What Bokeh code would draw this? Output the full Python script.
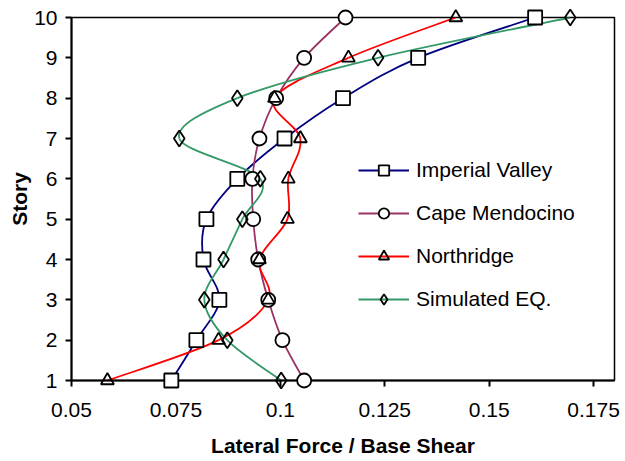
from bokeh.plotting import figure
from bokeh.models import FixedTicker, Legend, LegendItem, Range1d
from bokeh.embed import file_html
from bokeh.resources import INLINE

stories = [1, 2, 3, 4, 5, 6, 7, 8, 9, 10]
imperial_valley = [0.0739, 0.0799, 0.0854, 0.0816, 0.0823, 0.0897, 0.1010, 0.1150, 0.1330, 0.1610]
cape_mendocino = [0.1057, 0.1005, 0.0971, 0.0947, 0.0935, 0.0933, 0.0950, 0.0990, 0.1057, 0.1156]
northridge = [0.0586, 0.0852, 0.0971, 0.0950, 0.1017, 0.1019, 0.1048, 0.0986, 0.1163, 0.1420]
simulated_eq = [0.1002, 0.0873, 0.0818, 0.0864, 0.0909, 0.0952, 0.0758, 0.0897, 0.1234, 0.1694]

x_ticks = [0.05, 0.075, 0.1, 0.125, 0.15, 0.175]
x_tick_labels = ["0.05", "0.075", "0.1", "0.125", "0.15", "0.175"]
y_ticks = [1, 2, 3, 4, 5, 6, 7, 8, 9, 10]

# name, values, line colour, marker, size, filled
series = [
    ("Imperial Valley", imperial_valley, "#000080", "square", 14, True),
    ("Cape Mendocino", cape_mendocino, "#993366", "circle", 14, True),
    ("Northridge", northridge, "#FF0000", "triangle", 13, False),
    ("Simulated EQ.", simulated_eq, "#339966", "diamond", 16, False),
]

FONT = "Liberation Sans"
FS = "21px"

p = figure(width=625, height=461, output_backend="svg", toolbar_location=None,
           x_range=Range1d(0.05, 0.18), y_range=Range1d(1, 10),
           min_border_left=71, min_border_right=11, min_border_top=17, min_border_bottom=81)
p.xgrid.visible = False
p.ygrid.visible = False
p.outline_line_color = "black"
p.outline_line_width = 1.5
p.background_fill_color = "white"
p.border_fill_color = "white"


def bezier_controls(xs, ys):
    n = len(xs)
    d = dict(x0=[], y0=[], x1=[], y1=[], cx0=[], cy0=[], cx1=[], cy1=[])
    for i in range(n - 1):
        a = i - 1 if i > 0 else i
        b = i + 2 if i + 2 < n else i + 1
        d["x0"].append(xs[i]); d["y0"].append(ys[i])
        d["x1"].append(xs[i + 1]); d["y1"].append(ys[i + 1])
        d["cx0"].append(xs[i] + (xs[i + 1] - xs[a]) / 6.0)
        d["cy0"].append(ys[i] + (ys[i + 1] - ys[a]) / 6.0)
        d["cx1"].append(xs[i + 1] - (xs[b] - xs[i]) / 6.0)
        d["cy1"].append(ys[i + 1] - (ys[b] - ys[i]) / 6.0)
    return d


items = []
for name, vals, color, marker, size, filled in series:
    c = bezier_controls(vals, stories)
    br = p.bezier(x0=c["x0"], y0=c["y0"], x1=c["x1"], y1=c["y1"],
                  cx0=c["cx0"], cy0=c["cy0"], cx1=c["cx1"], cy1=c["cy1"],
                  line_color=color, line_width=1.8)
    sr = p.scatter(vals, stories, marker=marker, size=size, line_color="black",
                   line_width=1.8, fill_color="white",
                   fill_alpha=1.0 if filled else 0.0, level="overlay")
    items.append(LegendItem(label=name, renderers=[br, sr]))

legend = Legend(items=items, location=(287, 68))
legend.border_line_color = None
legend.background_fill_alpha = 0
legend.padding = 0
legend.margin = 0
legend.glyph_width = 51
legend.glyph_height = 26
legend.label_height = 26
legend.spacing = 17
legend.label_standoff = 7
legend.label_text_font = FONT
legend.label_text_font_size = FS
legend.label_text_color = "black"
p.add_layout(legend)

for ax in (p.xaxis[0], p.yaxis[0]):
    ax.axis_line_color = "black"
    ax.axis_line_width = 2
    ax.major_tick_line_color = "black"
    ax.major_tick_line_width = 2
    ax.major_tick_out = 6
    ax.major_tick_in = 0
    ax.minor_tick_line_color = None
    ax.major_label_text_font = FONT
    ax.major_label_text_font_size = FS
    ax.major_label_text_color = "black"
    ax.axis_label_text_font = FONT
    ax.axis_label_text_font_size = FS
    ax.axis_label_text_font_style = "bold"
    ax.axis_label_text_color = "black"

p.xaxis[0].ticker = FixedTicker(ticks=x_ticks)
p.xaxis[0].major_label_overrides = {t: l for t, l in zip(x_ticks, x_tick_labels)}
p.xaxis[0].major_label_standoff = 16
p.xaxis[0].axis_label = "Lateral Force / Base Shear"
p.xaxis[0].axis_label_standoff = 14

p.yaxis[0].ticker = FixedTicker(ticks=y_ticks)
p.yaxis[0].major_label_standoff = 8
p.yaxis[0].axis_label = "Story"
p.yaxis[0].axis_label_standoff = 0

open("out.html", "w").write(file_html(p, INLINE))
